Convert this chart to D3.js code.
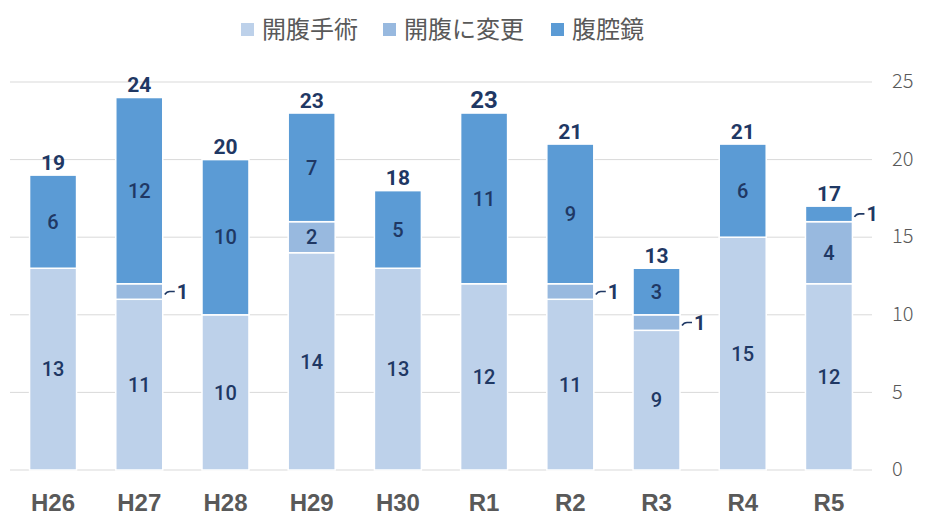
<!DOCTYPE html>
<html><head><meta charset="utf-8">
<script src="https://cdn.jsdelivr.net/npm/d3@7"></script>
<style>body{margin:0;background:#fff}svg{display:block}</style>
</head><body>
<svg id="c" width="926" height="528"></svg>
<script>
const categories = ["H26","H27","H28","H29","H30","R1","R2","R3","R4","R5"];
const openSurgery = [13,11,10,14,13,12,11,9,15,12];
const converted = [0,1,0,2,0,0,1,1,0,4];
const laparoscopic = [6,12,10,7,5,11,9,3,6,1];
const seriesNames = ["開腹手術","開腹に変更","腹腔鏡"];
const yTicks = [0,5,10,15,20,25];
const colors = ["#BDD1EA","#98B9DF","#5B9BD5"];

const svg = d3.select("#c");
const plotL = 10, plotR = 872, plotT = 82, plotB = 470;
const x = d3.scaleBand().domain(categories).range([plotL, plotR]).paddingInner(0.455).paddingOuter(0.227);
const y = d3.scaleLinear().domain([0,25]).range([plotB, plotT]);

// grid
svg.append("g").selectAll("line").data(yTicks).join("line")
  .attr("x1", plotL).attr("x2", plotR)
  .attr("y1", d=>y(d)).attr("y2", d=>y(d))
  .attr("stroke", "#D9D9D9").attr("stroke-width", 1);

// right axis labels
const ax = svg.append("g").attr("transform", `translate(${plotR},0)`)
  .call(d3.axisRight(y).tickValues(yTicks).tickSize(0).tickPadding(20));
ax.select(".domain").remove();
ax.selectAll("text").attr("font-family","'Noto Sans CJK JP'").attr("font-weight","300")
  .attr("font-size","20px").attr("fill","#595959").attr("dy","0.28em");

const data = categories.map((c,i)=>({cat:c, open:openSurgery[i], conv:converted[i], lap:laparoscopic[i]}));
const keys = ["open","conv","lap"];
const stacked = d3.stack().keys(keys)(data);

const g = svg.append("g");
stacked.forEach((s,si)=>{
  g.append("g").selectAll("rect").data(s.filter(d=>d[1]-d[0]>0)).join("rect")
    .attr("x", d=>x(d.data.cat)).attr("width", x.bandwidth())
    .attr("y", d=>y(d[1])).attr("height", d=>y(d[0])-y(d[1]))
    .attr("fill", colors[si]).attr("stroke","#fff").attr("stroke-width",1.5);
});

const labelFont = "Roboto,'Liberation Sans',sans-serif";
// segment labels
stacked.forEach((s,si)=>{
  s.forEach(d=>{
    const v = d[1]-d[0];
    if (v<=0) return;
    const cx = x(d.data.cat)+x.bandwidth()/2;
    const cy = (y(d[0])+y(d[1]))/2;
    if (v>=2) {
      g.append("text").attr("x",cx).attr("y",cy).attr("dy","0.36em")
        .attr("text-anchor","middle").attr("font-family",labelFont).attr("font-weight","500")
        .attr("font-size","20px").attr("fill","#1F3864").text(v);
    } else {
      const xr = x(d.data.cat)+x.bandwidth();
      g.append("path").attr("d",`M${xr+2},${cy+3}Q${xr+4},${cy} ${xr+7},${cy}L${xr+12},${cy}`)
        .attr("stroke","#1F3864").attr("stroke-width",1.6).attr("fill","none");
      g.append("text").attr("x",xr+14).attr("y",cy).attr("dy","0.36em")
        .attr("font-family",labelFont).attr("font-weight","700")
        .attr("font-size","20px").attr("fill","#1F3864").text(v);
    }
  });
});

// totals
data.forEach(d=>{
  const t = d.open+d.conv+d.lap;
  const big = d.cat === "R1";
  g.append("text").attr("x",x(d.cat)+x.bandwidth()/2).attr("y",y(t)-(big?14:13)).attr("dy","0.36em")
    .attr("text-anchor","middle").attr("font-family",labelFont).attr("font-weight","700")
    .attr("font-size", big ? "24px" : "21px").attr("fill","#1F3864").text(t);
});

// x labels
svg.append("g").selectAll("text").data(categories).join("text")
  .attr("x", d=>x(d)+x.bandwidth()/2).attr("y", 502).attr("dy","0.36em")
  .attr("text-anchor","middle").attr("font-family","'Liberation Sans',Arial,sans-serif").attr("font-weight","bold")
  .attr("font-size","24px").attr("fill","#595959").text(d=>d);

// legend
const legX = [241, 383, 551];
const leg = svg.append("g");
seriesNames.forEach((n,i)=>{
  leg.append("rect").attr("x",legX[i]).attr("y",23).attr("width",13).attr("height",13).attr("fill",colors[i]);
  leg.append("text").attr("x",legX[i]+21).attr("y",29).attr("dy","0.36em")
    .attr("font-family","'Noto Sans CJK JP'").attr("font-size","24px").attr("fill","#595959").text(n);
});
</script>
</body></html>
